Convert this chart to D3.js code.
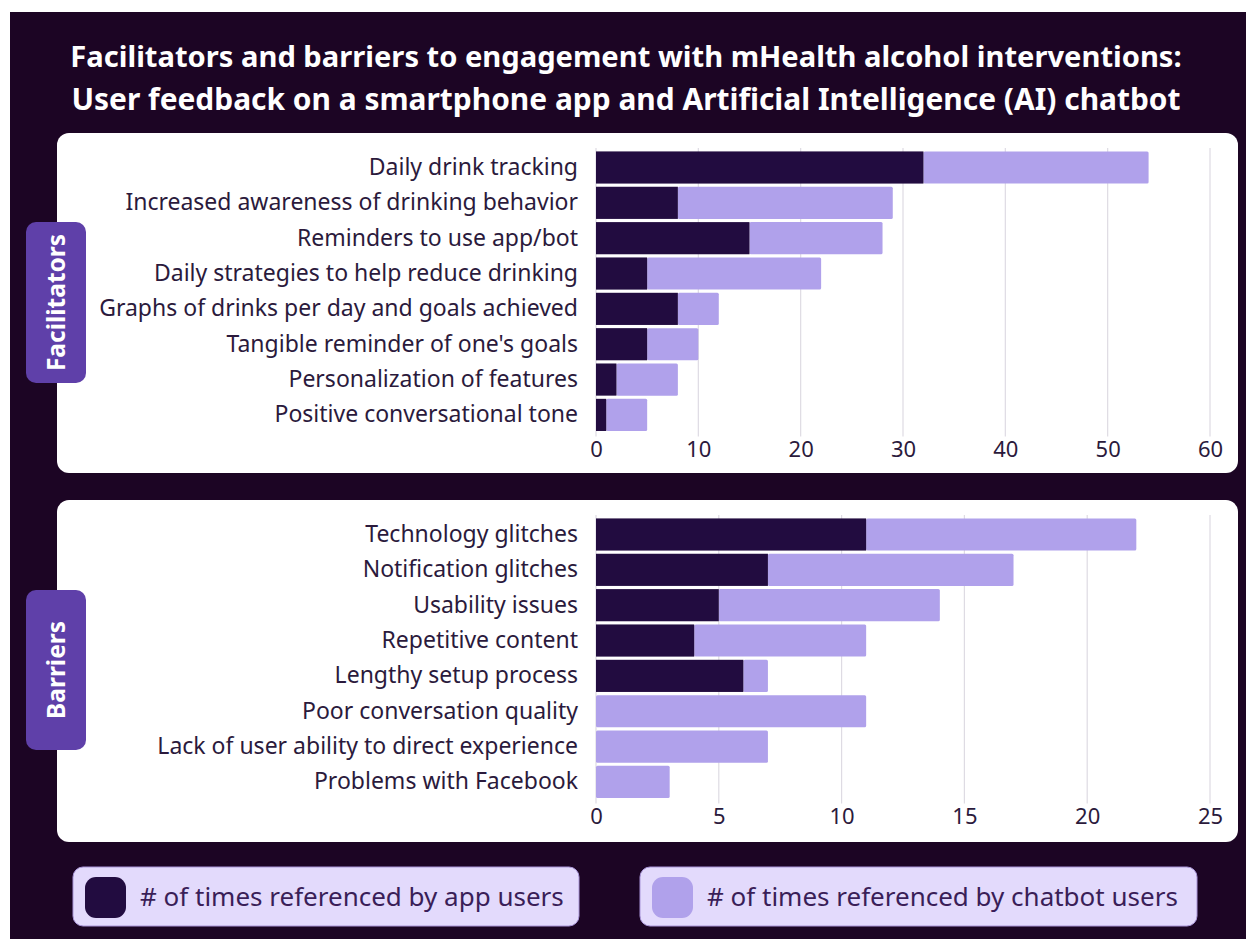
<!DOCTYPE html>
<html>
<head>
<meta charset="utf-8">
<script src="https://cdn.jsdelivr.net/npm/d3@7"></script>
<style>
  html, body { margin: 0; padding: 0; background: #fff; }
  svg { display: block; }
  text { font-family: "Noto Sans", "Open Sans", sans-serif; }
</style>
</head>
<body>
<svg id="chart" width="1246" height="939"></svg>
<script>
// facilitators panel
const facilitatorCategories = [
  'Daily drink tracking',
  'Increased awareness of drinking behavior',
  'Reminders to use app/bot',
  'Daily strategies to help reduce drinking',
  'Graphs of drinks per day and goals achieved',
  "Tangible reminder of one's goals",
  'Personalization of features',
  'Positive conversational tone'
]
const facilitatorApp = [32, 8, 15, 5, 8, 5, 2, 1]
const facilitatorChatbot = [22, 21, 13, 17, 4, 5, 6, 4]
const facilitatorTicks = [0, 10, 20, 30, 40, 50, 60]

// barriers panel
const barrierCategories = [
  'Technology glitches',
  'Notification glitches',
  'Usability issues',
  'Repetitive content',
  'Lengthy setup process',
  'Poor conversation quality',
  'Lack of user ability to direct experience',
  'Problems with Facebook'
]
const barrierApp = [11, 7, 5, 4, 6, 0, 0, 0]
const barrierChatbot = [11, 10, 9, 7, 1, 11, 7, 3]
const barrierTicks = [0, 5, 10, 15, 20, 25]

const titleLines = [
  'Facilitators and barriers to engagement with mHealth alcohol interventions:',
  'User feedback on a smartphone app and Artificial Intelligence (AI) chatbot'
]
const seriesNames = ['# of times referenced by app users', '# of times referenced by chatbot users']

const DARK_BG = '#1c0524'
const APP_COLOR = '#220c40'
const BOT_COLOR = '#b0a1eb'
const TAG_COLOR = '#5f40a9'
const TEXT_COLOR = '#2b1a3c'

const svg = d3.select('#chart')

svg.append('rect')
  .attr('x', 10).attr('y', 12)
  .attr('width', 1236).attr('height', 927)
  .attr('fill', DARK_BG)

// title, fit to width
const title = svg.append('g')
titleLines.forEach((line, i) => {
  const t = title.append('text')
    .attr('x', 626)
    .attr('y', 67 + i * 43)
    .attr('text-anchor', 'middle')
    .attr('fill', '#fff')
    .attr('font-weight', 700)
    .attr('font-size', 26)
    .text(line)
  const w = t.node().getComputedTextLength()
  const target = i === 0 ? 1112 : 1110
  t.attr('font-size', 26 * target / w)
})

function drawPanel(opts) {
  const { top, bottom, categories, app, bot, ticks, maxVal, tag, tagTop, tagBottom } = opts

  svg.append('rect')
    .attr('x', 57).attr('y', top)
    .attr('width', 1181).attr('height', bottom - top)
    .attr('rx', 12)
    .attr('fill', '#fff')

  const x = d3.scaleLinear().domain([0, maxVal]).range([596, 1210])
  const y = d3.scaleBand()
    .domain(categories)
    .range([top + 17, top + 17 + 8 * 35.3])
    .paddingInner(0.09)
    .paddingOuter(0.04)

  const g = svg.append('g')

  // gridlines
  g.selectAll('line.grid')
    .data(ticks)
    .join('line')
    .attr('class', 'grid')
    .attr('x1', d => x(d)).attr('x2', d => x(d))
    .attr('y1', top + 15).attr('y2', y.range()[1] + 4)
    .attr('stroke', '#dedbe3')
    .attr('stroke-width', 1.2)

  const rows = categories.map((c, i) => ({ c, app: app[i], bot: bot[i] }))

  g.selectAll('rect.bot')
    .data(rows)
    .join('rect')
    .attr('class', 'bot')
    .attr('x', d => x(d.app))
    .attr('y', d => y(d.c))
    .attr('width', d => x(d.app + d.bot) - x(d.app))
    .attr('height', y.bandwidth())
    .attr('rx', 1.5)
    .attr('fill', BOT_COLOR)

  g.selectAll('rect.app')
    .data(rows.filter(d => d.app > 0))
    .join('rect')
    .attr('class', 'app')
    .attr('x', x(0))
    .attr('y', d => y(d.c))
    .attr('width', d => x(d.app) - x(0))
    .attr('height', y.bandwidth())
    .attr('fill', APP_COLOR)

  // category labels
  const yAxis = d3.axisLeft(y).tickSize(0).tickPadding(0)
  const ya = g.append('g')
    .attr('transform', 'translate(578,0)')
    .call(yAxis)
  ya.select('.domain').remove()
  ya.selectAll('text')
    .attr('font-size', 23)
    .attr('fill', TEXT_COLOR)
    .attr('font-family', '"Noto Sans", sans-serif')

  // value ticks
  const xAxis = d3.axisBottom(x).tickValues(ticks).tickSize(0).tickPadding(0)
  const xa = g.append('g')
    .attr('transform', `translate(0,${y.range()[1] + 9})`)
    .call(xAxis)
  xa.select('.domain').remove()
  xa.selectAll('text')
    .attr('font-size', 22)
    .attr('fill', TEXT_COLOR)
    .attr('font-family', '"Noto Sans", sans-serif')

  // side tag
  const tx = 26, tw = 60
  svg.append('rect')
    .attr('x', tx).attr('y', tagTop)
    .attr('width', tw).attr('height', tagBottom - tagTop)
    .attr('rx', 10)
    .attr('fill', TAG_COLOR)
  svg.append('text')
    .attr('transform', `translate(${tx + tw / 2 + 9},${(tagTop + tagBottom) / 2}) rotate(-90)`)
    .attr('text-anchor', 'middle')
    .attr('fill', '#fff')
    .attr('font-weight', 700)
    .attr('font-size', 24.5)
    .attr('font-family', 'Roboto, "Noto Sans", sans-serif')
    .text(tag)
}

drawPanel({
  top: 133, bottom: 473,
  categories: facilitatorCategories,
  app: facilitatorApp, bot: facilitatorChatbot,
  ticks: facilitatorTicks, maxVal: 60,
  tag: 'Facilitators', tagTop: 222, tagBottom: 383
})

drawPanel({
  top: 500, bottom: 842,
  categories: barrierCategories,
  app: barrierApp, bot: barrierChatbot,
  ticks: barrierTicks, maxVal: 25,
  tag: 'Barriers', tagTop: 590, tagBottom: 750
})

// legend
const legendBoxes = [
  { x: 73, w: 506, color: APP_COLOR },
  { x: 640, w: 557, color: BOT_COLOR }
]
const lg = svg.append('g')
legendBoxes.forEach((b, i) => {
  lg.append('rect')
    .attr('x', b.x).attr('y', 867)
    .attr('width', b.w).attr('height', 59)
    .attr('rx', 10)
    .attr('fill', '#e3dafc')
    .attr('stroke', '#a995d8')
    .attr('stroke-width', 1)
  lg.append('rect')
    .attr('x', b.x + 12).attr('y', 877)
    .attr('width', 41).attr('height', 41)
    .attr('rx', 11)
    .attr('fill', b.color)
  lg.append('text')
    .attr('x', b.x + 67).attr('y', 897)
    .attr('dy', '0.35em')
    .attr('font-size', 26)
    .attr('fill', '#3a1e58')
    .text(seriesNames[i])
})
</script>
</body>
</html>
